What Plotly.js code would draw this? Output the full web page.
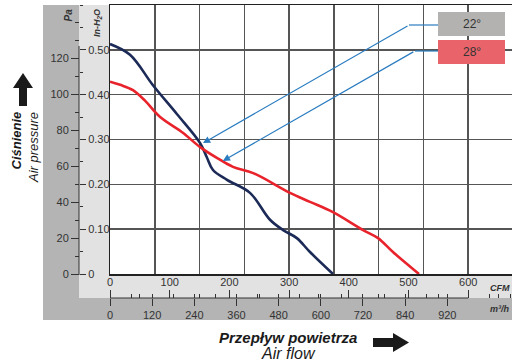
<!DOCTYPE html>
<html><head><meta charset="utf-8">
<script src="https://cdn.plot.ly/plotly-3.0.1.min.js"></script>
<style>html,body{margin:0;padding:0;background:#fff}#chart{width:512px;height:363px}</style>
</head><body><div id="chart"></div>
<script>
// Fan curves: airflow (CFM) vs static pressure (in-H2O)
const cfm22 = [0, 33.5, 72, 112, 151, 162, 172.5, 196, 234.5, 268, 290, 313, 335, 373.5];
const inh22 = [0.513, 0.489, 0.421, 0.357, 0.292, 0.261, 0.232, 0.210, 0.181, 0.121, 0.098, 0.080, 0.049, 0];
const cfm28 = [0, 17, 38.5, 59, 84, 122, 151, 179, 206, 240, 301.5, 335, 373.5, 424, 449, 474, 517.6];
const inh28 = [0.429, 0.422, 0.410, 0.386, 0.350, 0.315, 0.283, 0.259, 0.239, 0.225, 0.181, 0.161, 0.138, 0.098, 0.080, 0.049, 0];
const seriesNames = ['22°', '28°'];
const paTicks = [0, 20, 40, 60, 80, 100, 120];
const inhTicks = [0, 0.1, 0.2, 0.3, 0.4, 0.5];
const inhTickText = ['0', '0.10', '0.20', '0.30', '0.40', '0.50'];
const cfmTicks = [0, 100, 200, 300, 400, 500, 600];
const m3hTicks = [0, 120, 240, 360, 480, 600, 720, 840, 960];
const m3hTickText = ['0', '120', '240', '360', '480', '600', '720', '840', '920'];
const arrowTipCfm = [155.8, 189];
const arrowTipInh = [0.292, 0.252];

const W = 512, H = 363;
const PA_PER_INH = 249.089, M3H_PER_CFM = 1.69901;
const X = px => px / W, Y = py => 1 - py / H;
const xMax = 673.4, yMax = 0.6;
const FONT = 'Liberation Sans, Arial, sans-serif';
const tickFont = {family: FONT, size: 11, color: '#333'};

function path(pts) {
  return 'M' + pts.map(p => X(p[0]).toFixed(5) + ',' + Y(p[1]).toFixed(5)).join(' L') + ' Z';
}
function label(px, py, text, size, extra) {
  return Object.assign({xref: 'paper', yref: 'paper', x: X(px), y: Y(py), xanchor: 'center', yanchor: 'middle',
    text: text, showarrow: false, font: {family: FONT, size: size, color: '#333'}}, extra || {});
}

const traces = [
  {x: cfm22, y: inh22, name: seriesNames[0], type: 'scatter', mode: 'lines',
   line: {color: '#1c2a57', width: 2.6, shape: 'spline', smoothing: 1.0}, hoverinfo: 'skip'},
  {x: cfm28, y: inh28, name: seriesNames[1], type: 'scatter', mode: 'lines',
   line: {color: '#e8232b', width: 2.6, shape: 'spline', smoothing: 1.0}, hoverinfo: 'skip'},
  {x: [null], y: [null], xaxis: 'x2', yaxis: 'y2', type: 'scatter', mode: 'markers', hoverinfo: 'skip', showlegend: false},
  {x: [null], y: [null], xaxis: 'x3', yaxis: 'y3', type: 'scatter', mode: 'markers', hoverinfo: 'skip', showlegend: false}
];

const axBase = {fixedrange: true, zeroline: false};
const layout = {
  width: W, height: H,
  margin: {l: 0, r: 0, t: 0, b: 0},
  paper_bgcolor: '#fff', plot_bgcolor: '#fff',
  showlegend: false,
  font: {family: FONT, color: '#333'},
  xaxis: Object.assign({}, axBase, {
    domain: [X(110), 1], range: [0, xMax], dtick: 75, tick0: 0,
    showticklabels: false, ticks: '', showgrid: true, gridcolor: '#555', gridwidth: 1.5,
    showline: true, mirror: true, linecolor: '#222', linewidth: 1.5
  }),
  yaxis: Object.assign({}, axBase, {
    domain: [Y(274), Y(5)], range: [0, yMax], dtick: 0.1, tick0: 0,
    showticklabels: false, ticks: '', showgrid: true, gridcolor: '#555', gridwidth: 1.5,
    showline: true, mirror: true, linecolor: '#222', linewidth: 1.5
  }),
  // CFM labels (above the scale line)
  xaxis2: Object.assign({}, axBase, {
    overlaying: 'x', anchor: 'free', position: Y(298), side: 'top',
    range: [0, xMax], tickvals: cfmTicks, ticks: 'outside', ticklen: 8, tickwidth: 1, tickcolor: '#333',
    showgrid: false, showline: false, tickfont: tickFont,
    minor: {dtick: 50, tick0: 0, ticks: 'outside', ticklen: 4, tickcolor: '#333', showgrid: false}
  }),
  // m3/h labels (below the scale line)
  xaxis3: Object.assign({}, axBase, {
    overlaying: 'x', anchor: 'free', position: Y(298), side: 'bottom',
    range: [0, xMax * M3H_PER_CFM], tickvals: m3hTicks, ticktext: m3hTickText,
    ticks: 'outside', ticklen: 7, tickwidth: 1, tickcolor: '#333',
    showgrid: false, showline: false, tickfont: tickFont,
    minor: {dtick: 60, tick0: 0, ticks: 'inside', ticklen: 4, tickcolor: '#333', showgrid: false}
  }),
  // Pa scale
  yaxis2: Object.assign({}, axBase, {
    overlaying: 'y', anchor: 'free', position: X(79), side: 'left',
    range: [0, yMax * PA_PER_INH], tickvals: paTicks, ticks: 'outside', ticklen: 8, tickwidth: 1, tickcolor: '#333',
    showgrid: false, showline: false, tickfont: tickFont,
    minor: {dtick: 10, tick0: 0, ticks: 'outside', ticklen: 4, tickcolor: '#333', showgrid: false}
  }),
  // in-H2O scale
  yaxis3: Object.assign({}, axBase, {
    overlaying: 'y', anchor: 'free', position: X(79), side: 'right',
    range: [0, yMax], tickvals: inhTicks, ticktext: inhTickText, ticks: 'outside', ticklen: 6, tickwidth: 1, tickcolor: '#333',
    showgrid: false, showline: false, tickfont: tickFont,
    minor: {dtick: 0.05, tick0: 0, ticks: 'outside', ticklen: 3, tickcolor: '#333', showgrid: false}
  }),
  shapes: [
    {type: 'rect', xref: 'paper', yref: 'paper', x0: X(43), x1: X(79), y0: Y(320), y1: Y(5), fillcolor: '#b4b4b4', line: {width: 0}, layer: 'below'},
    {type: 'rect', xref: 'paper', yref: 'paper', x0: X(43), x1: 1, y0: Y(320), y1: Y(298), fillcolor: '#b4b4b4', line: {width: 0}, layer: 'below'},
    {type: 'rect', xref: 'paper', yref: 'paper', x0: X(79), x1: X(110), y0: Y(298), y1: Y(5), fillcolor: '#e2e2e2', line: {width: 0}, layer: 'below'},
    {type: 'rect', xref: 'paper', yref: 'paper', x0: X(79), x1: 1, y0: Y(298), y1: Y(274), fillcolor: '#e2e2e2', line: {width: 0}, layer: 'below'},
    // scale lines
    {type: 'line', xref: 'paper', yref: 'paper', x0: X(79), x1: X(79), y0: Y(275), y1: Y(46), line: {color: '#333', width: 1}},
    {type: 'line', xref: 'paper', yref: 'paper', x0: X(110), x1: X(468), y0: Y(298), y1: Y(298), line: {color: '#333', width: 1}},
    // legend boxes
    {type: 'rect', xref: 'paper', yref: 'paper', x0: X(438), x1: X(505), y0: Y(36), y1: Y(12), fillcolor: '#b3b2b0', line: {width: 0}},
    {type: 'rect', xref: 'paper', yref: 'paper', x0: X(438), x1: X(505), y0: Y(64), y1: Y(40), fillcolor: '#e8646a', line: {width: 0}},
    // leader horizontal parts
    {type: 'line', xref: 'paper', yref: 'paper', x0: X(438), x1: X(409), y0: Y(25), y1: Y(25), line: {color: '#2a7cc0', width: 1.2}},
    {type: 'line', xref: 'paper', yref: 'paper', x0: X(438), x1: X(415), y0: Y(51), y1: Y(51), line: {color: '#2a7cc0', width: 1.2}},
    // block arrows
    {type: 'path', xref: 'paper', yref: 'paper', path: path([[19,106],[19,88],[13,88],[23,73],[33,88],[27,88],[27,106]]), fillcolor: '#1a1a1a', line: {width: 0}},
    {type: 'path', xref: 'paper', yref: 'paper', path: path([[373,338],[393,338],[393,333],[409,342.5],[393,352],[393,347],[373,347]]), fillcolor: '#1a1a1a', line: {width: 0}}
  ],
  annotations: [
    {xref: 'x', yref: 'y', x: arrowTipCfm[0], y: arrowTipInh[0], ax: 409 - 203, ay: 25 - 143, text: '',
     showarrow: true, arrowhead: 2, arrowsize: 1.2, arrowwidth: 1.2, arrowcolor: '#2a7cc0'},
    {xref: 'x', yref: 'y', x: arrowTipCfm[1], y: arrowTipInh[1], ax: 415 - 223, ay: 51 - 161, text: '',
     showarrow: true, arrowhead: 2, arrowsize: 1.2, arrowwidth: 1.2, arrowcolor: '#2a7cc0'},
    label(471.5, 24, seriesNames[0], 12),
    label(471.5, 52, seriesNames[1], 12),
    label(68.5, 15, '<b><i>Pa</i></b>', 10, {textangle: -90}),
    label(98, 23, '<b><i>In-H<sub>2</sub>O</i></b>', 9, {textangle: -90}),
    label(500, 288, '<b><i>CFM</i></b>', 9),
    label(500, 309, '<b><i>m³/h</i></b>', 9),
    label(15.5, 141, '<b><i>Ciśnienie</i></b>', 13, {textangle: -90, font: {family: FONT, size: 13, color: '#1a1a1a'}}),
    label(33, 148, '<i>Air pressure</i>', 13, {textangle: -90, font: {family: FONT, size: 13, color: '#1a1a1a'}}),
    label(288, 337, '<b><i>Przepływ powietrza</i></b>', 15, {font: {family: FONT, size: 15, color: '#1a1a1a'}}),
    label(288, 353, '<i>Air flow</i>', 16, {font: {family: FONT, size: 16, color: '#1a1a1a'}})
  ]
};

Plotly.newPlot('chart', traces, layout, {staticPlot: true, displayModeBar: false});
</script>
</body></html>
